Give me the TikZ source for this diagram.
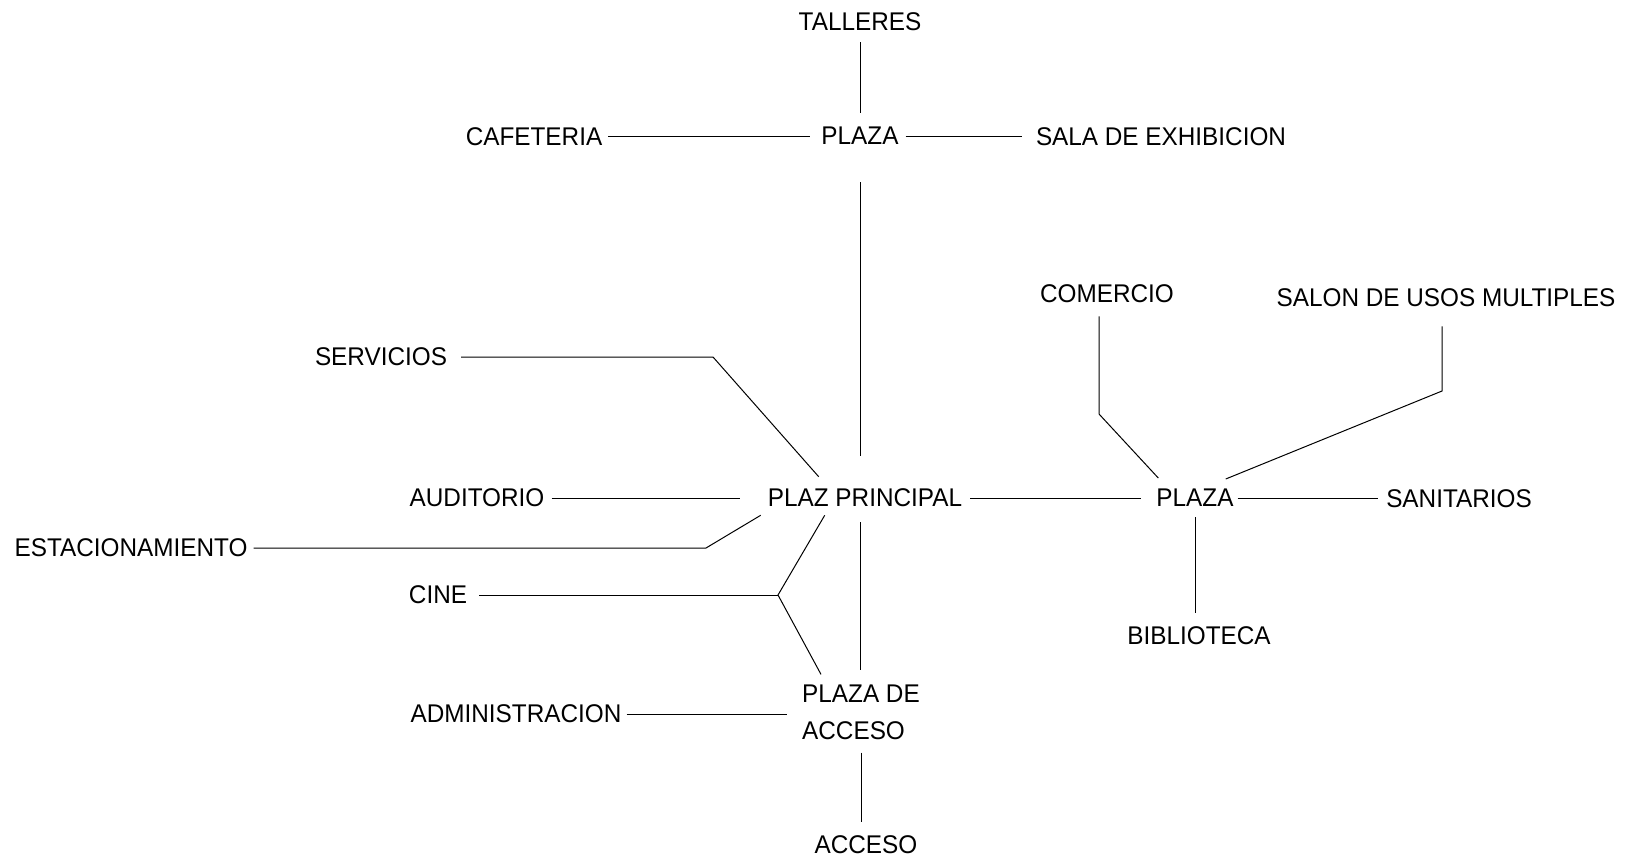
\documentclass[tikz,border=0pt]{standalone}
\usepackage{fontspec}
\setmainfont{Liberation Sans}[FakeStretch=0.95]
\begin{document}
\begin{tikzpicture}[x=1pt,y=-1pt,
  lbl/.style={inner sep=0pt, font=\fontsize{25.6pt}{37pt}\selectfont},
  conn/.style={line width=1pt, draw=black}]
\useasboundingbox (0,0) rectangle (1629,863);
% nodes
\node[lbl] (tal) at (860,22) {TALLERES};
\node[lbl] (pT) at (860,136) {PLAZA};
\node[lbl] (cafe) at (534,137) {CAFETERIA};
\node[lbl] (sala) at (1161,137) {SALA DE EXHIBICION};
\node[lbl] (serv) at (381,357) {SERVICIOS};
\node[lbl] (aud) at (477,498) {AUDITORIO};
\node[lbl] (pp) at (865,498) {PLAZ PRINCIPAL};
\node[lbl] (estac) at (131,548) {ESTACIONAMIENTO};
\node[lbl] (cine) at (438,595) {CINE};
\node[lbl, align=left, anchor=west] (pda) at (802,712) {PLAZA DE\\ACCESO};
\node[lbl] (admin) at (516,714) {ADMINISTRACION};
\node[lbl] (acc) at (866,845) {ACCESO};
\node[lbl] (pR) at (1195,498) {PLAZA};
\node[lbl] (sanit) at (1459,499) {SANITARIOS};
\node[lbl] (com) at (1107,294) {COMERCIO};
\node[lbl] (salon) at (1446,298) {SALON DE USOS MULTIPLES};
\node[lbl] (bib) at (1199,636) {BIBLIOTECA};
% bend points
\coordinate (servB) at (713,357);
\coordinate (estB) at (706,548);
\coordinate (cineJ) at (778,595);
\coordinate (comB) at (1099,414);
\coordinate (salB) at (1442,391);
% connectors
\draw[conn, shorten <=14pt, shorten >=11pt] (pT.north) -- (pT.north |- tal.south);
\draw[conn, shorten <=6pt, shorten >=11pt] (pT.west -| cafe.east) -- (pT.west);
\draw[conn, shorten <=7pt, shorten >=14pt] (pT.east) -- (pT.east -| sala.west);
\draw[conn, shorten <=37pt, shorten >=33pt] (pT.south) -- (pT.south |- pp.north);
\draw[conn, shorten <=14pt] (serv.east) -- (servB) -- ([xshift=51pt,yshift=12pt]pp.north west);
\draw[conn, shorten <=7pt, shorten >=28pt] (aud.east) -- (pp.west);
\draw[conn, shorten <=8pt, shorten >=15pt] (pp.east) -- (pR.west);
\draw[conn, shorten <=4pt, shorten >=8pt] (pR.east) -- (pR.east -| sanit.west);
\draw[conn, shorten <=6pt] (estac.east) -- (estB) -- ([xshift=-7pt,yshift=-8pt]pp.south west);
\draw[conn, shorten <=12pt] (cine.east) -- (cineJ);
\draw[conn] ([xshift=57pt,yshift=-8pt]pp.south west) -- (cineJ) -- ([xshift=19pt,yshift=10pt]pda.north west);
\draw[conn, shorten <=15pt, shorten >=14pt] (pT.south |- pp.south) -- (pT.south |- pda.north);
\draw[conn, shorten <=5pt, shorten >=15pt] (admin.east) -- (admin.east -| pda.west);
\draw[conn, shorten <=13pt, shorten >=14pt] (pda.south) -- (pda.south |- acc.north);
\draw[conn, shorten <=13pt] (comB |- com.south) -- (comB) -- ([xshift=2pt,yshift=11pt]pR.north west);
\draw[conn, shorten <=19pt] (salB |- salon.south) -- (salB) -- ([xshift=-8pt,yshift=10pt]pR.north east);
\draw[conn, shorten <=10pt, shorten >=14pt] (pR.south) -- (pR.south |- bib.north);
\end{tikzpicture}
\end{document}
